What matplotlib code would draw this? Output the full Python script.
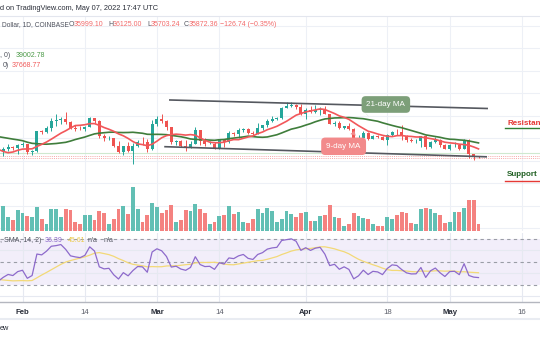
import numpy as np
import pandas as pd
import matplotlib
matplotlib.use("Agg")
import matplotlib.pyplot as plt
import matplotlib.transforms as mtransforms

plt.rcParams['font.family'] = ['Liberation Sans', 'DejaVu Sans']

W, H = 540, 340

# ---------------- data ----------------
# closes before the visible window (Dec 20 2021 - Jan 26 2022), used for MA / RSI warm-up
warm_closes = [46880, 48940, 48620, 50820, 50430, 50800, 50640, 50700, 47540, 46470, 47120, 46210,
               47690, 47290, 46430, 45830, 43440, 43080, 41560, 41730, 41860, 41820, 42740, 43920,
               42590, 43100, 43180, 43110, 42250, 42380, 41680, 40700, 36470, 35080, 36280, 36690,
               36970, 36850]

# visible daily candles, Jan 27 - May 07 2022
closes = [37170, 37730, 38170, 37910, 38490,
          38690, 36890, 37290, 41570, 41400, 42380, 43840, 44040, 44360, 43560, 42400, 42200, 42070, 42540,
          44570, 43880, 40540, 40000, 40120, 38370, 37010, 38250, 37260, 38330, 39210, 39110, 37700, 43180,
          44420, 43920, 42450, 39140, 39400, 38420, 37990, 38730, 41940, 39440, 38730, 38810, 37790, 39670,
          39280, 41110, 40920, 41760, 42200, 41260, 41000, 42360, 42890, 43960, 44330, 44510, 46820, 47130,
          47430, 47060, 45530,
          46280, 45810, 46400, 46620, 45500, 43170, 43440, 42280, 42750, 42150, 39530, 40080, 41150, 39940,
          40550, 40390, 39690, 40800, 41500, 41370, 40480, 39710, 39450, 39470, 40430, 38120, 39240, 39740,
          38600, 37630,
          38470, 38520, 37720, 39690, 36550, 36010, 35872.36]
highs = [37480, 38000, 38710, 38370, 38730,
         39270, 38850, 37480, 41730, 41950, 42650, 44480, 45500, 44800, 45850, 43900, 43000, 42750, 42870,
         44730, 44580, 44150, 40950, 40450, 40140, 39490, 38420, 39270, 38970, 39700, 40260, 39870, 44170,
         44950, 45400, 44100, 42500, 39700, 39660, 39550, 39380, 42600, 41950, 40130, 39470, 39310, 39900,
         39890, 41700, 41480, 42300, 42400, 42300, 41550, 43360, 43030, 44220, 45090, 44800, 46920, 48190,
         48100, 47700, 47600,
         46690, 47200, 47440, 46870, 47150, 45500, 43900, 43970, 42790, 43420, 42420, 40700, 41550, 41500,
         40850, 40700, 40590, 40990, 41740, 42190, 42960, 40800, 39990, 39920, 40620, 40800, 39470, 40350,
         39950, 38800,
         38650, 39150, 38650, 39900, 39840, 36620, 36125.00]
lows = [35510, 36170, 37300, 37350, 36630,
        38010, 36600, 36250, 37050, 40950, 41120, 41670, 42700, 43150, 43200, 42000, 41750, 41880, 41570,
        42440, 43330, 40090, 39450, 39640, 38010, 36810, 36360, 37050, 34320, 38020, 38600, 37050, 37450,
        42830, 43350, 41840, 38650, 38600, 38100, 37160, 37880, 38650, 38540, 38250, 38660, 37580, 37590,
        38130, 38900, 40520, 40180, 41530, 40910, 40500, 40880, 41780, 42540, 43600, 44080, 44420, 46660,
        46950, 46600, 45220,
        44220, 45640, 45560, 45150, 45400, 43120, 42760, 42130, 42130, 41870, 39200, 39250, 39570, 39560,
        39780, 40000, 39570, 38550, 40600, 40850, 39750, 39200, 39300, 39000, 38200, 37700, 37870, 38880,
        38180, 37580,
        37400, 38050, 37530, 37670, 35600, 35250, 35703.24]
last_open = 35999.10
# volume (thousand BTC)
volumes = [18.9, 22.5, 12.9, 9.9, 18.9,
           15.9, 13.5, 12.9, 21.3, 10.5, 6.3, 19.5, 19.5, 12.3, 19.5, 18.9, 8.4, 6.3, 14.4,
           14.1, 9.9, 17.7, 15.9, 6.3, 10.5, 19.8, 22.5, 15.3, 39.9, 19.8, 8.4, 14.1, 24.9,
           21.3, 16.5, 18.9, 23.4, 8.4, 9.9, 18.9, 18.3, 24.0, 20.1, 16.5, 6.0, 8.1, 13.5,
           14.7, 22.5, 15.3, 16.8, 8.4, 7.5, 10.8, 19.5, 16.5, 21.0, 18.3, 7.8, 10.5, 18.3,
           15.3, 12.3, 16.5,
           17.1, 8.7, 8.7, 13.5, 14.1, 23.4, 12.9, 11.7, 4.8, 6.3, 16.5, 13.5, 12.0, 10.8,
           6.3, 4.5, 4.8, 12.9, 10.5, 14.1, 16.8, 16.2, 6.9, 6.6, 19.8, 21.0, 19.8, 15.9,
           14.7, 6.9,
           8.1, 17.1, 17.1, 20.4, 27.6, 27.6, 6.0]

tick_days = [0, 13, 28, 41, 59, 76, 89, 104]
tick_labels = ['Feb', '14', 'Mar', '14', 'Apr', '18', 'May', '16']

# trend lines (day index from Feb 1, price)
upper_line = ([30.7, 96.8], [48540, 46650])
lower_line = ([29.7, 96.6], [38160, 35920])

# ---------------- derived ----------------
all_closes = pd.Series(warm_closes + closes, dtype=float)
n_warm = len(warm_closes)
start = pd.Timestamp('2022-01-27')
feb1 = pd.Timestamp('2022-02-01')
x_all = np.arange(len(all_closes)) - n_warm + (start - feb1).days
x = x_all[n_warm:]

opens = [warm_closes[-1]] + closes[:-1]
opens[-1] = last_open
o = np.array(opens, float); c = np.array(closes, float)
hi = np.array(highs, float); lo = np.array(lows, float)
up = c >= o

ma9 = all_closes.rolling(9).mean()
ma21 = all_closes.rolling(21).mean()

delta = all_closes.diff()
gain = delta.clip(lower=0).values
loss = (-delta.clip(upper=0)).values
n = 14
ag = np.full(len(gain), np.nan); al = np.full(len(gain), np.nan)
ag[n] = gain[1:n + 1].mean(); al[n] = loss[1:n + 1].mean()
for i in range(n + 1, len(gain)):
    ag[i] = (ag[i - 1] * (n - 1) + gain[i]) / n
    al[i] = (al[i - 1] * (n - 1) + loss[i]) / n
rsi = pd.Series(100 - 100 / (1 + ag / al))
rsi_ma = rsi.rolling(14).mean()

# ---------------- figure ----------------
fig = plt.figure(figsize=(W / 100, H / 100), dpi=100)
fig.patch.set_facecolor('white')

def fx(px):
    return px / W

def fy(py):
    return 1 - py / H

def ftext(px, py, s, **kw):
    kw.setdefault('va', 'center')
    kw.setdefault('ha', 'left')
    fig.text(fx(px), fy(py), s, **kw)

xlim = (-22.5 / 4.8, (W - 22.5) / 4.8)
grid_c = '#edf0f6'

# volume axes (background) + price axes (foreground)
axv = fig.add_axes([0, fy(231), 1, (231 - 16) / H])
ax = axv.twinx()
axv.set_zorder(1); ax.set_zorder(2)
ax.patch.set_visible(False)
axv.set_facecolor('white')
for a in (ax, axv):
    a.set_xlim(*xlim)
    a.set_xticks([]); a.set_yticks([])
    for s in a.spines.values():
        s.set_visible(False)
ax.set_ylim(19430, 67200)
axv.set_ylim(0, 193.5)
ax.spines['top'].set_visible(True)
ax.spines['top'].set_color('#e3e6ee')
ax.spines['top'].set_linewidth(0.8)

blend = mtransforms.blended_transform_factory(axv.transAxes, ax.transData)
for p in range(20000, 66000, 5000):
    axv.plot([0, 1], [p, p], color=grid_c, lw=0.8, transform=blend, zorder=0)
for d in tick_days:
    axv.axvline(d, color=grid_c, lw=0.8, zorder=0)

vcol = np.where(up, '#62bfb4', '#f48280')
axv.bar(x, volumes, width=0.82, color=vcol, zorder=2)

# price level lines
ax.axhline(36830, color='#cfe9cf', lw=0.8, zorder=1)
ax.axhline(36125, color='#f6a9a9', lw=0.7, ls=(0, (1, 1.2)), zorder=1)
ax.axhline(35750, color='#f6a9a9', lw=0.7, ls=(0, (1, 1.2)), zorder=1)

# candles
ccol = np.where(up, '#26a69a', '#ef5350')
ax.vlines(x, lo, hi, colors=ccol, lw=0.7, zorder=3)
body = np.maximum(np.abs(c - o), 60)
ax.bar(x, body, bottom=np.minimum(o, c), width=0.65, color=ccol, zorder=4)

# moving averages
ax.plot(x_all, ma21.values, color='#3f7d3b', lw=1.2, zorder=5)
ax.plot(x_all, ma9.values, color='#f2575a', lw=1.2, zorder=5)

# trend lines
ax.plot(*upper_line, color='#55585f', lw=1.2, zorder=6)
ax.plot(*lower_line, color='#55585f', lw=1.2, zorder=6)

# callouts
ax.annotate('21-day MA', xy=(71.4, 44760), xytext=(75.7, 47540), ha='center', va='center',
            fontsize=5.8, color='white',
            bbox=dict(boxstyle='round,pad=0.6,rounding_size=0.5', fc='#7d9f79', ec='none'),
            arrowprops=dict(arrowstyle='wedge,tail_width=0.7,shrink_factor=0.5', fc='#7d9f79', ec='none',
                            relpos=(0.2, 0.1)), zorder=7)
ax.annotate('9-day MA', xy=(69.3, 42300), xytext=(66.9, 38250), ha='center', va='center',
            fontsize=5.8, color='white',
            bbox=dict(boxstyle='round,pad=0.65,rounding_size=0.5', fc='#f28a8b', ec='none'),
            arrowprops=dict(arrowstyle='wedge,tail_width=0.7,shrink_factor=0.5', fc='#f28a8b', ec='none',
                            relpos=(0.7, 0.9)), zorder=7)

# ---------------- RSI pane ----------------
ar = fig.add_axes([0, fy(302), 1, (302 - 233) / H])
ar.set_xlim(*xlim)
ar.set_ylim(15.2, 75.2)
for s in ('top', 'left', 'right'):
    ar.spines[s].set_visible(False)
ar.spines['bottom'].set_color('#b4b7bf')
ar.spines['bottom'].set_linewidth(1.0)
ar.axhspan(30, 70, color='#f2eefa', lw=0, zorder=0)
for lv in (20, 40, 60):
    ar.axhline(lv, color='#e6e9f1', lw=0.8, zorder=1)
for d in tick_days:
    ar.axvline(d, color='#e6e9f1', lw=0.8, zorder=1)
for lv in (30, 50, 70):
    ar.axhline(lv, color='#9a9da6', lw=0.8, ls=(0, (3, 3)), zorder=2)
ar.plot(x_all, rsi_ma.values, color='#f3d977', lw=0.9, zorder=3)
ar.plot(x_all, rsi.values, color='#8d6acb', lw=0.9, zorder=4)
ar.set_yticks([])
ar.set_xticks(tick_days)
ar.set_xticklabels(tick_labels)
ar.tick_params(axis='x', length=0, pad=5, labelsize=5.6)
for lab in ar.get_xticklabels():
    if lab.get_text().isalpha():
        lab.set_fontweight('bold'); lab.set_color('#2a2e39')
    else:
        lab.set_color('#5d606b')

# ---------------- texts ----------------
dark = '#2a2e39'
gray = '#50535e'
fs = 5.0
ftext(0, 8, 'd on TradingView.com, May 07, 2022 17:47 UTC', fontsize=5.3, color=dark)
ftext(2, 25, 'Dollar, 1D, COINBASE', fontsize=4.75, color=gray)
red_t = '#f26a6a'
for px_, s, col in [(69, 'O', gray), (74, '35999.10', red_t), (108.5, 'H', gray),
                    (113, '36125.00', red_t), (147.5, 'L', gray), (151, '35703.24', red_t),
                    (184, 'C', gray), (188.5, '35872.36', red_t), (220, '\u2212126.74 (\u22120.35%)', red_t)]:
    ftext(px_, 25, s, fontsize=fs, color=col)
ftext(0, 55.5, ', 0)', fontsize=fs, color=gray)
ftext(16, 55.5, '39002.78', fontsize=fs, color='#4c9a48')
ftext(3, 65.5, '0)', fontsize=fs, color=gray)
ftext(12, 65.5, '37668.77', fontsize=fs, color='#f05a5a')

ftext(0, 241, ', SMA, 14, 2)', fontsize=fs, color=gray)
ftext(45, 241, '36.39', fontsize=fs, color='#8d6acb')
ftext(68, 241, '45.61', fontsize=fs, color='#eccb4a')
ftext(88, 241, 'n/a', fontsize=fs, color=gray)
ftext(104, 241, 'n/a', fontsize=fs, color=gray)

ftext(507, 123, 'Resistance', fontsize=5.8, color='#e53935', fontweight='bold')
fig.add_artist(plt.Line2D([fx(505), fx(540)], [fy(128.3), fy(128.3)], color='#2e7d32', lw=1.0))
ftext(507, 175, 'Support', fontsize=5.8, color='#1f5f22', fontweight='bold')
fig.add_artist(plt.Line2D([fx(505), fx(540)], [fy(181), fy(181)], color='#e53935', lw=1.0))

fig.add_artist(plt.Line2D([0, 1], [fy(318.5), fy(318.5)], color='#e9ecf2', lw=1.5))
ftext(0, 329, 'ew', fontsize=5.3, color=dark)

fig.savefig('out.png', dpi=100, facecolor='white')
